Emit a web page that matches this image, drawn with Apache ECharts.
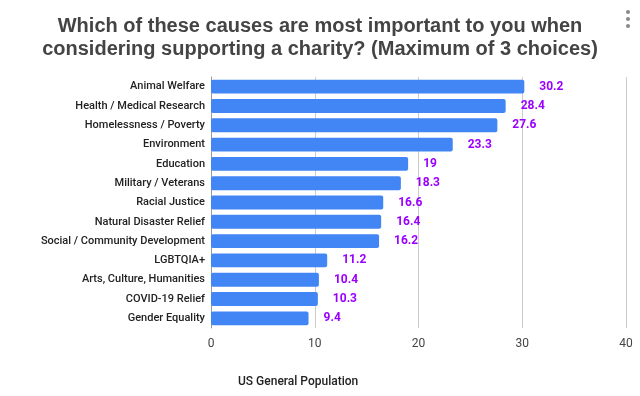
<!DOCTYPE html>
<html>
<head>
<meta charset="utf-8">
<script src="https://cdn.jsdelivr.net/npm/echarts@6/dist/echarts.min.js"></script>
<style>
  html, body { margin: 0; padding: 0; background: #fff; }
  #chart { width: 640px; height: 396px; }
</style>
</head>
<body>
<div id="chart"></div>
<script>
// data
var causes = [
  'Animal Welfare', 'Health / Medical Research', 'Homelessness / Poverty',
  'Environment', 'Education', 'Military / Veterans', 'Racial Justice',
  'Natural Disaster Relief', 'Social / Community Development', 'LGBTQIA+',
  'Arts, Culture, Humanities', 'COVID-19 Relief', 'Gender Equality'
];
var population = [30.2, 28.4, 27.6, 23.3, 19, 18.3, 16.6, 16.4, 16.2, 11.2, 10.4, 10.3, 9.4];
var xTicks = [0, 10, 20, 30, 40];

var chart = echarts.init(document.getElementById('chart'), null, { renderer: 'canvas' });

var option = {
  animation: false,
  backgroundColor: '#fff',
  title: [{
    text: 'Which of these causes are most important to you when\nconsidering supporting a charity? (Maximum of 3 choices)',
    left: 'center',
    top: 10,
    textStyle: {
      fontFamily: 'Liberation Sans',
      fontSize: 20,
      fontWeight: 'bold',
      color: '#444',
      lineHeight: 23
    }
  }, {
    text: 'US General Population',
    left: 233,
    top: 371,
    textStyle: {
      fontFamily: 'Roboto',
      fontSize: 12,
      fontWeight: 500,
      color: '#222'
    }
  }],
  grid: {
    left: 211,
    right: 14,
    top: 77,
    bottom: 68,
    containLabel: false
  },
  xAxis: {
    type: 'value',
    min: 0,
    max: 40,
    interval: 10,
    axisLine: { show: false },
    axisTick: { show: false },
    axisLabel: {
      color: '#444',
      fontFamily: 'Roboto',
      fontSize: 12,
      margin: 10
    },
    splitLine: { lineStyle: { color: '#ccc' } }
  },
  yAxis: {
    type: 'category',
    data: causes,
    inverse: true,
    axisLine: { show: true, lineStyle: { color: '#999', width: 1 } },
    axisTick: { show: false },
    axisLabel: {
      color: '#222',
      fontFamily: 'Roboto',
      fontSize: 11,
      fontWeight: 500,
      margin: 6
    }
  },
  series: [{
    name: 'US General Population',
    type: 'bar',
    data: population,
    barCategoryGap: '28%',
    itemStyle: { color: '#4285f4', borderRadius: 2 },
    label: {
      show: true,
      position: 'right',
      distance: 15,
      color: '#9900ff',
      fontFamily: 'Roboto',
      fontSize: 12,
      fontWeight: 'bold'
    }
  }],
  graphic: [
    { type: 'circle', shape: { cx: 628, cy: 12, r: 2 }, style: { fill: '#888' } },
    { type: 'circle', shape: { cx: 628, cy: 19, r: 2 }, style: { fill: '#888' } },
    { type: 'circle', shape: { cx: 628, cy: 26, r: 2 }, style: { fill: '#888' } }
  ]
};

chart.setOption(option);
</script>
</body>
</html>
